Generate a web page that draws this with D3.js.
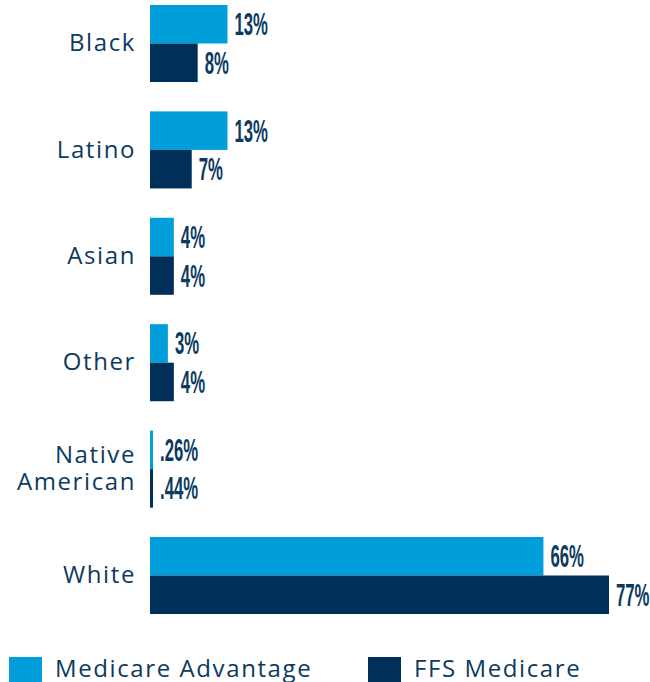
<!DOCTYPE html>
<html>
<head>
<meta charset="utf-8">
<script src="https://cdn.jsdelivr.net/npm/d3@7"></script>
<style>
  body { margin: 0; background: #fff; }
  svg { display: block; }
</style>
</head>
<body>
<div id="chart"></div>
<script>
const categories = ["Black", "Latino", "Asian", "Other", "Native American", "White"];
const series = ["Medicare Advantage", "FFS Medicare"];
const advantage = [13, 13, 4, 3, 0.26, 66];
const ffs = [8, 7, 4, 4, 0.44, 77];
const colors = ["#009fdb", "#00305a"];
const textColor = "#0d3a5f";

const w = 650;
const h = 682;

const data = categories.map((c, i) => ({ cat: c, values: [advantage[i], ffs[i]] }));

const svg = d3.select("#chart").append("svg").attr("width", w).attr("height", h);

const x = d3.scaleLinear().domain([0, 77]).range([150, 609]);
const y = d3.scaleBand().domain(categories).range([-9.7, 628.7]).paddingInner(0.276).paddingOuter(0.138);
const y1 = d3.scaleBand().domain([0, 1]).range([0, y.bandwidth()]);

const fmt = (v) => (v < 1 ? "." + Math.round(v * 100) : v) + "%";

const groups = svg.selectAll("g.group").data(data).enter().append("g")
  .attr("class", "group")
  .attr("transform", (d) => `translate(0,${y(d.cat)})`);

groups.selectAll("rect").data((d) => d.values).enter().append("rect")
  .attr("x", x(0))
  .attr("y", (d, i) => y1(i))
  .attr("width", (d) => Math.max(3, x(d) - x(0)))
  .attr("height", y1.bandwidth())
  .attr("fill", (d, i) => colors[i]);

// value labels, squeezed to look like a condensed face
groups.selectAll("text.val").data((d) => d.values).enter().append("text")
  .attr("class", "val")
  .attr("transform", (d, i) =>
    `translate(${Math.max(x(0) + 3, x(d)) + 7},${y1(i) + y1.bandwidth() / 2 + 11}) scale(0.54,1)`)
  .attr("font-family", "'Liberation Sans Narrow', 'Liberation Sans', sans-serif")
  .attr("font-weight", "bold")
  .attr("font-size", 31)
  .attr("fill", textColor)
  .text((d) => fmt(d));

// category axis
const yAxis = svg.append("g")
  .attr("transform", `translate(${x(0)},0)`)
  .call(d3.axisLeft(y).tickSize(0).tickPadding(14));
yAxis.select(".domain").remove();
yAxis.selectAll("text")
  .attr("font-family", "'Open Sans', sans-serif")
  .attr("font-size", 24)
  .attr("letter-spacing", 1.6)
  .attr("fill", textColor)
  .each(function (d) {
    const words = d.split(" ");
    if (words.length > 1) {
      const t = d3.select(this).text(null).attr("dy", null);
      words.forEach((wd, k) => {
        t.append("tspan").attr("x", -14).attr("dy", k === 0 ? "-0.25em" : "1.1em").text(wd);
      });
    }
  });

// legend
const legendX = [9, 368];
const legend = svg.selectAll("g.legend").data(series).enter().append("g")
  .attr("class", "legend")
  .attr("transform", (d, i) => `translate(${legendX[i]},657)`);
legend.append("rect").attr("width", 33).attr("height", 28).attr("fill", (d, i) => colors[i]);
legend.append("text")
  .attr("x", 46)
  .attr("y", 20)
  .attr("font-family", "'Open Sans', sans-serif")
  .attr("font-size", 24)
  .attr("letter-spacing", 1.6)
  .attr("fill", textColor)
  .text((d) => d);
</script>
</body>
</html>
